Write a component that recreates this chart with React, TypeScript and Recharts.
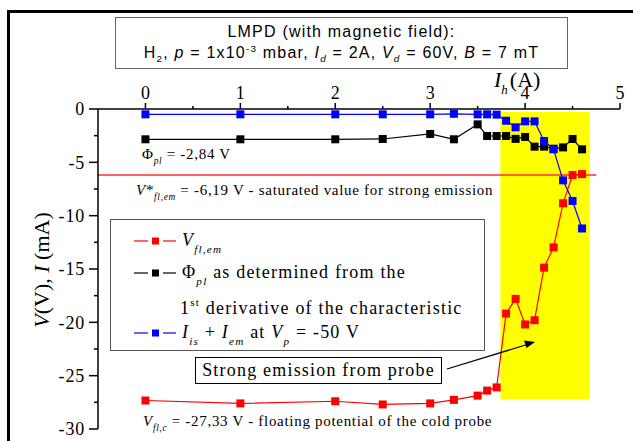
import React from 'react';
import { LineChart, Line, XAxis, YAxis, ReferenceArea, ReferenceLine } from 'recharts';

// ── Data ──────────────────────────────────────────────────────────────────────

const heaterCurrent = [0, 1, 2, 2.5, 3, 3.25, 3.5, 3.6, 3.7, 3.8, 3.9, 4.0, 4.1, 4.2, 4.3, 4.4, 4.5, 4.6];
const vFlEm = [-27.33, -27.6, -27.4, -27.7, -27.6, -27.27, -26.87, -26.4, -26.1, -19.18, -17.8, -20.2, -19.8, -14.87, -12.97, -8.84, -6.19, -6.1];
const phiPl = [-2.84, -2.84, -2.84, -2.81, -2.34, -2.84, -1.44, -2.53, -2.53, -2.53, -2.8, -2.62, -3.53, -3.53, -3.72, -3.6, -2.81, -3.78];
const iSum = [-0.5, -0.5, -0.5, -0.5, -0.5, -0.45, -0.5, -0.5, -0.53, -1.1, -1.72, -1.16, -1.16, -3.0, -3.78, -6.69, -8.62, -11.2];

const xTicks = [0, 0.5, 1, 1.5, 2, 2.5, 3, 3.5, 4, 4.5, 5];
const yTicks = [0, -2.5, -5, -7.5, -10, -12.5, -15, -17.5, -20, -22.5, -25, -27.5, -30];

const saturated = -6.19;
const emissionZone = { x1: 3.74, x2: 4.68, y1: -27.2, y2: -0.25 };

const data = heaterCurrent.map((ih, i) => ({
    ih,
    vfl: vFlEm[i],
    phi: phiPl[i],
    isum: iSum[i],
}));

const SERIF = '"Liberation Serif", "Times New Roman", serif';
const SANS = '"Liberation Sans", Arial, sans-serif';

// ── Bits ──────────────────────────────────────────────────────────────────────

const square = (color: string) => (props: any) => {
    const { cx, cy, index } = props;
    if (cx == null || cy == null) return <g key={index} />;
    return <rect key={index} x={cx - 4} y={cy - 4} width={8} height={8} fill={color} />;
};

function XTick({ x, y, payload }: any) {
    const major = Number.isInteger(payload.value);
    return (
        <g>
            <line x1={x} x2={x} y1={y} y2={y - (major ? 6 : 3)} stroke="#000" strokeWidth={1.5} />
            {major && (
                <text x={x} y={y - 10} textAnchor="middle" style={{ fontFamily: SERIF, fontSize: 18 }} fill="#000">
                    {payload.value}
                </text>
            )}
        </g>
    );
}

function YTick({ x, y, payload }: any) {
    const major = payload.value % 5 === 0;
    return (
        <g>
            <line x1={x} x2={x - (major ? 9 : 4)} y1={y} y2={y} stroke="#000" strokeWidth={1.5} />
            {major && (
                <text x={x - 13} y={y} dy="0.35em" textAnchor="end" style={{ fontFamily: SERIF, fontSize: 18, letterSpacing: 0.8 }} fill="#000">
                    {payload.value}
                </text>
            )}
        </g>
    );
}

const Sub = ({ children, italic = true, size = '0.62em', drop = 6 }: any) => (
    <span style={{ fontSize: size, fontStyle: italic ? 'italic' : 'normal', position: 'relative', top: drop }}>{children}</span>
);

const Sup = ({ children, size = '0.62em', rise = 7 }: any) => (
    <span style={{ fontSize: size, position: 'relative', top: -rise }}>{children}</span>
);

function Marker({ color }: { color: string }) {
    return (
        <svg width={46} height={10} style={{ position: 'absolute', left: 23, top: -5 }}>
            <line x1={0} x2={14} y1={5} y2={5} stroke={color} strokeWidth={1.2} />
            <rect x={18} y={1.5} width={7} height={7} fill={color} />
            <line x1={29} x2={42} y1={5} y2={5} stroke={color} strokeWidth={1.2} />
        </svg>
    );
}

const abs = (left: number, top: number, extra: React.CSSProperties = {}): React.CSSProperties => ({
    position: 'absolute', left, top, whiteSpace: 'nowrap', ...extra,
});

// ── Component ─────────────────────────────────────────────────────────────────

export default function App() {
    const legendText: React.CSSProperties = { fontFamily: SERIF, fontSize: 18, letterSpacing: 1.2, lineHeight: '20px' };
    const noteText: React.CSSProperties = { fontFamily: SERIF, fontSize: 15, letterSpacing: 0.7, lineHeight: '16px', color: '#000' };

    return (
        <div style={{ position: 'absolute', left: 0, top: 0, width: 633, height: 441, overflow: 'hidden', background: '#fff' }}>
            {/* outer frame */}
            <div style={{ position: 'absolute', left: 7, top: 10, width: 700, height: 500, border: '3px solid #000' }} />

            {/* title box */}
            <div style={{ position: 'absolute', left: 115, top: 17, width: 451, height: 50, border: '1.5px solid #666', fontFamily: SANS, fontSize: 16, letterSpacing: 1.2, textAlign: 'center', color: '#000' }}>
                <div style={{ position: 'absolute', left: 0, right: 0, top: 4, lineHeight: '20px' }}>LMPD (with magnetic field):</div>
                <div style={{ position: 'absolute', left: 0, right: 0, top: 25, lineHeight: '20px' }}>
                    H<Sub italic={false} drop={4}>2</Sub>, <i>p</i> = 1x10<Sup rise={6}>-3</Sup> mbar, <i>I</i><Sub drop={4}>d</Sub> = 2A, <i>V</i><Sub drop={4}>d</Sub> = 60V, <i>B</i> = 7 mT
                </div>
            </div>

            <LineChart width={633} height={441} data={data} margin={{ top: 79, right: 13, bottom: 12, left: 0 }} style={{ position: 'absolute', left: 0, top: 0 }}>
                <XAxis
                    dataKey="ih"
                    type="number"
                    orientation="top"
                    domain={[-0.5, 5]}
                    ticks={xTicks}
                    height={30}
                    tickSize={0}
                    tickMargin={0}
                    tickLine={false}
                    axisLine={{ stroke: '#000', strokeWidth: 1.5 }}
                    tick={<XTick />}
                    interval={0}
                    allowDataOverflow
                />
                <YAxis
                    type="number"
                    domain={[-30, 0]}
                    ticks={yTicks}
                    width={98}
                    tickSize={0}
                    tickMargin={0}
                    tickLine={false}
                    axisLine={{ stroke: '#000', strokeWidth: 1.5 }}
                    tick={<YTick />}
                    interval={0}
                    allowDataOverflow
                />
                <ReferenceArea
                    x1={emissionZone.x1}
                    x2={emissionZone.x2}
                    y1={emissionZone.y1}
                    y2={emissionZone.y2}
                    fill="#FFFF00"
                    fillOpacity={1}
                    stroke="none"
                />
                <ReferenceLine
                    segment={[{ x: -0.5, y: saturated }, { x: 4.75, y: saturated }]}
                    stroke="#FF3030"
                    strokeWidth={1.5}
                    ifOverflow="visible"
                />
                <Line dataKey="vfl" stroke="#FF0000" strokeWidth={1.2} dot={square('#FF0000')} isAnimationActive={false} />
                <Line dataKey="phi" stroke="#000000" strokeWidth={1.2} dot={square('#000000')} isAnimationActive={false} />
                <Line dataKey="isum" stroke="#0000FF" strokeWidth={1.2} dot={square('#0000FF')} isAnimationActive={false} />
            </LineChart>

            {/* axis titles and arrow */}
            <svg width={633} height={441} style={{ position: 'absolute', left: 0, top: 0, pointerEvents: 'none' }}>
                <text transform="translate(49,270) rotate(-90)" textAnchor="middle" style={{ fontFamily: SERIF, fontSize: 22 }} fill="#000">
                    <tspan fontStyle="italic">V</tspan>(V), <tspan fontStyle="italic">I</tspan> (mA)
                </text>
                <text x={494} y={87} style={{ fontFamily: SERIF, fontSize: 22 }} fill="#000">
                    <tspan fontStyle="italic">I</tspan>
                    <tspan fontStyle="italic" fontSize={13} dy={7}>h</tspan>
                    <tspan dy={-7} dx={2}>(A)</tspan>
                </text>
                <line x1={447} y1={369} x2={527} y2={344.5} stroke="#000" strokeWidth={1.3} />
                <polygon points="535,342 524,340.5 526.5,348" fill="#000" />
            </svg>

            {/* notes */}
            <div style={abs(142, 146, noteText)}>
                Φ<Sub drop={5}>pl</Sub> = -2,84 V
            </div>
            <div style={abs(136, 182, noteText)}>
                <i>V</i>*<Sub drop={5}>fl,em</Sub> = -6,19 V - saturated value for strong emission
            </div>
            <div style={abs(143, 413, noteText)}>
                <i>V</i><Sub drop={5}>fl,c</Sub> = -27,33 V - floating potential of the cold probe
            </div>

            {/* legend */}
            <div style={{ position: 'absolute', left: 110, top: 219, width: 373, height: 130, border: '1.5px solid #555', background: '#fff' }}>
                <div style={abs(0, 21)}><Marker color="#FF0000" /></div>
                <div style={abs(71, 10, legendText)}>
                    <i>V</i><Sub drop={7}>fl,em</Sub>
                </div>
                <div style={abs(0, 53)}><Marker color="#000000" /></div>
                <div style={abs(71, 42, legendText)}>
                    Φ<Sub drop={7}>pl</Sub> as determined from the
                </div>
                <div style={abs(69, 78, legendText)}>
                    1<Sup rise={8}>st</Sup> derivative of the characteristic
                </div>
                <div style={abs(0, 113)}><Marker color="#0000FF" /></div>
                <div style={abs(71, 102, legendText)}>
                    <i>I</i><Sub drop={7}>is</Sub> + <i>I</i><Sub drop={7}>em</Sub> at <i>V</i><Sub drop={7}>p</Sub> = -50 V
                </div>
            </div>

            {/* strong emission box */}
            <div style={{ position: 'absolute', left: 195, top: 357, width: 245, height: 25, border: '1.5px solid #000', background: '#fff', ...legendText, lineHeight: '25px', textAlign: 'center' }}>
                Strong emission from probe
            </div>
        </div>
    );
}
